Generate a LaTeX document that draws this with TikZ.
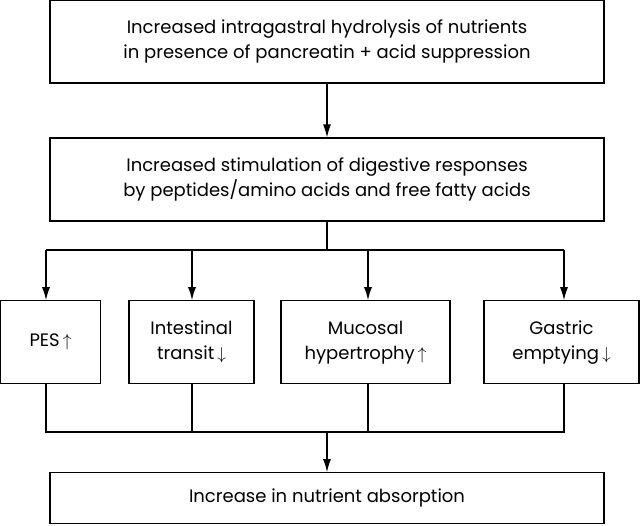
\documentclass[tikz,border=0pt]{standalone}
\usepackage{fontspec}
\setmainfont{Poppins}
\usetikzlibrary{arrows.meta}
\tikzset{
  box/.style={draw, line width=1.2pt, align=center, inner sep=0pt, font=\fontsize{18}{25}\selectfont},
  arr/.style={line width=1.2pt, -{Latex[length=13pt,width=8pt]}}
}
\newcommand{\up}{\,$\Big\uparrow$}
\newcommand{\down}{\,$\Big\downarrow$}
\begin{document}
\begin{tikzpicture}[x=1pt,y=-1pt]
    \useasboundingbox (0,0) rectangle (640,525);
	% main chain
	\node[box, minimum width=554pt, minimum height=83pt] (hydro) at (327,41.5)
	    {Increased intragastral hydrolysis of nutrients\\in presence of pancreatin + acid suppression};
	\node[box, minimum width=554pt, minimum height=83pt] (stim) at (327,179.5)
	    {Increased stimulation of digestive responses\\by peptides/amino acids and free fatty acids};
	\node[box, minimum width=100pt, minimum height=83pt] (pes) at (50.5,342.3) {PES\up};
	\node[box, minimum width=125pt, minimum height=83pt] (transit) at (191.5,342.3) {Intestinal\\transit\down};
	\node[box, minimum width=169pt, minimum height=83pt] (mucosa) at (365.5,342.3) {Mucosal\\hypertrophy\up};
	\node[box, minimum width=155pt, minimum height=83pt] (gastric) at (561.5,342.3) {Gastric\\emptying\down};
	\node[box, minimum width=554pt, minimum height=51pt] (absorb) at (327,498.2) {Increase in nutrient absorption};
	% split and join
	\coordinate (split) at (327,250);
	\coordinate (sa) at (46,250);
	\coordinate (sb) at (192,250);
	\coordinate (sc) at (368,250);
	\coordinate (sd) at (564,250);
	\coordinate (join) at (327,432);
	\coordinate (ja) at (46,432);
	\coordinate (jd) at (564,432);
	\draw[arr] (hydro) -- (stim);
	\draw[line width=1.2pt] (stim) -- (split);
	\draw[line width=1.2pt] (sa) -- (sd);
	\draw[arr] (sa) -- (sa |- pes.north);
	\draw[arr] (sb) -- (sb |- transit.north);
	\draw[arr] (sc) -- (sc |- mucosa.north);
	\draw[arr] (sd) -- (sd |- gastric.north);
	\draw[line width=1.2pt] (ja |- pes.south) -- (ja) -- (jd) -- (jd |- gastric.south);
	\draw[line width=1.2pt] (sb |- transit.south) -- (sb |- join);
	\draw[line width=1.2pt] (sc |- mucosa.south) -- (sc |- join);
	\draw[arr] (join) -- (absorb);
\end{tikzpicture}
\end{document}
